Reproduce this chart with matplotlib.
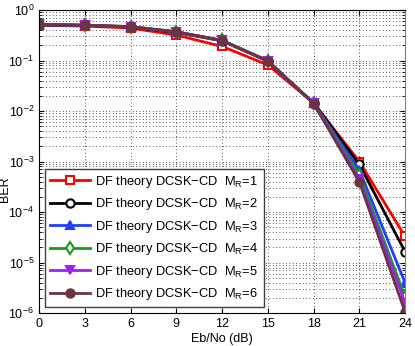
import numpy as np
import matplotlib.pyplot as plt

plt.rcParams['font.family'] = ['Liberation Sans', 'DejaVu Sans']

snr = [0, 3, 6, 9, 12, 15, 18, 21, 24]
ber_m1 = [0.50, 0.48, 0.44, 0.32, 0.19, 0.082, 0.0145, 1.0e-3, 3.3e-5]
ber_m2 = [0.51, 0.50, 0.46, 0.36, 0.245, 0.097, 0.0145, 8.8e-4, 1.65e-5]
ber_m3 = [0.51, 0.50, 0.46, 0.37, 0.25, 0.098, 0.0143, 6.8e-4, 4.0e-6]
ber_m4 = [0.52, 0.50, 0.47, 0.37, 0.25, 0.099, 0.0142, 5.5e-4, 2.1e-6]
ber_m5 = [0.52, 0.50, 0.47, 0.37, 0.25, 0.099, 0.0142, 4.6e-4, 1.6e-6]
ber_m6 = [0.52, 0.50, 0.47, 0.37, 0.25, 0.099, 0.0141, 4.0e-4, 1.05e-6]

series = [ber_m1, ber_m2, ber_m3, ber_m4, ber_m5, ber_m6]
labels = ["DF theory DCSK\u2212CD  M$_\\mathregular{R}$=%d" % k for k in range(1, 7)]
colors = ['#ff0000', '#000000', '#1f3fff', '#1a9a1a', '#a020f0', '#6a3540']
markers = ['s', 'o', '^', 'd', 'v', 'o']
faces = ['white', 'white', '#1f3fff', 'white', '#a020f0', '#6a3540']

fig = plt.figure(figsize=(4.15, 3.46), dpi=100)
ax = fig.add_axes([0.094, 0.095, 0.882, 0.876])

for y, lab, c, m, f in zip(series, labels, colors, markers, faces):
    ax.semilogy(snr, y, '-', color=c, marker=m, markerfacecolor=f,
                markeredgecolor=c, markeredgewidth=1.5, markersize=6,
                linewidth=2, label=lab)

ax.set_xlim(0, 24)
ax.set_ylim(1e-6, 1)
ax.set_xticks(snr)
ax.grid(True, which='both', linestyle=(0, (1, 3)), color='#222222', linewidth=0.6)
ax.tick_params(labelsize=9, direction='in', which='both', top=True, right=True)
ax.spines['right'].set_color('#808080')
ax.set_xlabel("Eb/No (dB)", fontsize=9, labelpad=2)
ax.set_ylabel("BER", fontsize=9)
ax.yaxis.set_label_coords(-0.076, 0.41)

leg = ax.legend(loc='lower left', fontsize=9.3, handlelength=3.1,
                handletextpad=0.4, fancybox=False, framealpha=1,
                edgecolor='#404040', labelspacing=0.5, borderaxespad=0.45)
leg.get_frame().set_linewidth(1.0)

fig.savefig("out.png", dpi=100)
